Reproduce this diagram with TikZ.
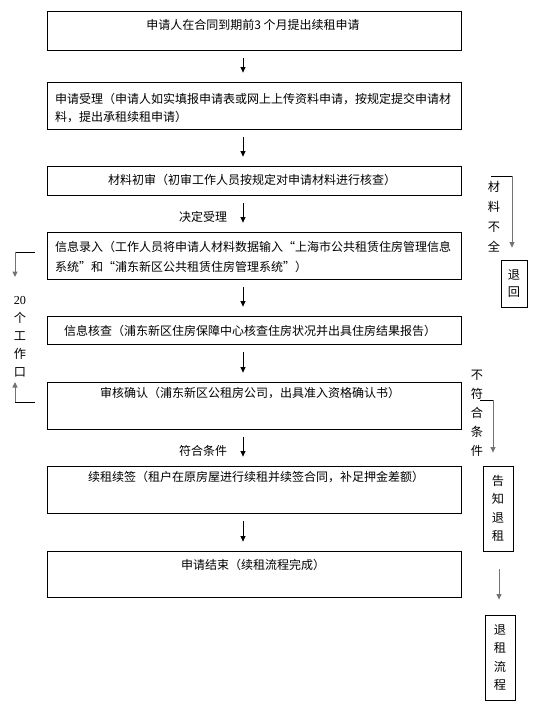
\documentclass[tikz,border=0pt]{standalone}
\usepackage{fontspec}
\setmainfont{Noto Sans CJK SC}
\newfontfamily\numfont{Liberation Serif}
\usetikzlibrary{arrows.meta}

\tikzset{
  stepbox/.style={draw, line width=0.8pt, minimum width=414pt, inner sep=0pt},
  sidebox/.style={draw, line width=0.8pt, inner sep=0pt, align=center,
    font=\fontsize{12.2}{18.5}\selectfont},
  boxtext/.style={font=\fontsize{12}{18}\selectfont, inner sep=0pt},
  flow/.style={-{Triangle[length=5.5pt,width=5pt]}, line width=0.8pt,
    shorten <=8pt, shorten >=9pt},
  sideline/.style={draw=black!55, line width=1pt},
  sidearrow/.style={sideline, -{Triangle[length=5.5pt,width=5pt]}},
  vtext/.style={font=\fontsize{12.2}{19}\selectfont, align=center, inner sep=0pt}
}

\begin{document}
\begin{tikzpicture}[x=1pt, y=-1pt]
    \useasboundingbox (0,0) rectangle (543,710);

    % Main steps
    \node[stepbox, minimum height=39pt] (apply) at (254,30.5) {};
    \node[stepbox, minimum height=47pt] (accept) at (254,105.5) {};
    \node[stepbox, minimum height=29pt] (precheck) at (254,180.5) {};
    \node[stepbox, minimum height=47pt] (entry) at (254,255.5) {};
    \node[stepbox, minimum height=28pt] (verify) at (254,330) {};
    \node[stepbox, minimum height=47pt] (confirm) at (254,405.5) {};
    \node[stepbox, minimum height=47pt] (renew) at (254,489.5) {};
    \node[stepbox, minimum height=46pt] (finish) at (254,574) {};

    % Step texts
    \node[boxtext] (applytxt) at (253,25) {申请人在合同到期前3 个月提出续租申请};
    \node[boxtext, anchor=west, align=left] (accepttxt) at (55,108)
      {申请受理（申请人如实填报申请表或网上上传资料申请，按规定提交申请材\\料，提出承租续租申请）};
    \node[boxtext] (prechecktxt) at (252,180) {材料初审（初审工作人员按规定对申请材料进行核查）};
    \node[boxtext, anchor=west, align=left, font=\fontsize{12}{20}\selectfont] (entrytxt) at (55,257)
      {信息录入（工作人员将申请人材料数据输入“上海市公共租赁住房管理信息\\系统”和“浦东新区公共租赁住房管理系统”）};
    \node[boxtext] (verifytxt) at (250,331) {信息核查（浦东新区住房保障中心核查住房状况并出具住房结果报告）};
    \node[boxtext] (confirmtxt) at (250,393) {审核确认（浦东新区公租房公司，出具准入资格确认书）};
    \node[boxtext] (renewtxt) at (256,477) {续租续签（租户在原房屋进行续租并续签合同，补足押金差额）};
    \node[boxtext] (finishtxt) at (253,565) {申请结束（续租流程完成）};

    % Main arrows
    \draw[flow] ([xshift=-11pt]apply.south) -- ([xshift=-11pt]accept.north);
    \draw[flow] ([xshift=-11pt]accept.south) -- ([xshift=-11pt]precheck.north);
    \draw[flow] ([xshift=-11pt]precheck.south) -- ([xshift=-11pt]entry.north);
    \draw[flow] ([xshift=-11pt]entry.south) -- ([xshift=-11pt]verify.north);
    \draw[flow] ([xshift=-11pt]verify.south) -- ([xshift=-11pt]confirm.north);
    \draw[flow] ([xshift=-11pt]confirm.south) -- ([xshift=-11pt]renew.north);
    \draw[flow] ([xshift=-11pt]renew.south) -- ([xshift=-11pt]finish.north);

    % Arrow labels
    \node[boxtext] (acceptlbl) at (203,217) {决定受理};
    \node[boxtext] (oklbl) at (203,451) {符合条件};

    % Side boxes
    \node[sidebox, minimum width=26pt, minimum height=47pt,
      font=\fontsize{12.2}{17}\selectfont] (back) at (514,283.5) {退\\回};
    \node[sidebox, minimum width=30pt, minimum height=85pt] (notice) at (498,508.5) {告\\知\\退\\租};
    \node[sidebox, minimum width=30pt, minimum height=85pt] (quit) at (500,657.5) {退\\租\\流\\程};

    % Incomplete materials
    \node[vtext, font=\fontsize{12.2}{20}\selectfont] (misslbl) at (494,217) {材\\料\\不\\全};
    \coordinate (missa) at (491,176);
    \coordinate (missb) at (512,176);
    \draw[line width=0.8pt] (missa) -- (missb);
    \draw[sidearrow, shorten >=12pt] (missb) -- (missb |- back.north);

    % Not qualified
    \node[vtext] (faillbl) at (477,413) {不\\符\\合\\条\\件};
    \coordinate (faila) at (480,400);
    \coordinate (failb) at (493,400);
    \draw[line width=0.8pt] (faila) -- (failb);
    \draw[sidearrow, shorten >=13pt] (failb) -- (failb |- notice.north);

    % To move out
    \draw[sidearrow, shorten <=18pt, shorten >=15pt] ([xshift=1pt]notice.south) -- ([xshift=-1pt]quit.north);

    % Working days
    \node[vtext, font=\fontsize{12.2}{18}\selectfont] (dayslbl) at (20,337) {{\numfont 20}\\个\\工\\作\\口};
    \coordinate (daysa) at (35,252);
    \coordinate (daysb) at (15,252);
    \coordinate (daysc) at (15,277);
    \draw[line width=0.8pt] (daysa) -- (daysb);
    \draw[sidearrow] (daysb) -- (daysc);
    \coordinate (daysd) at (35,402);
    \coordinate (dayse) at (15,402);
    \coordinate (daysf) at (15,382);
    \draw[line width=0.8pt] (daysd) -- (dayse);
    \draw[sidearrow] (dayse) -- (daysf);

\end{tikzpicture}
\end{document}
